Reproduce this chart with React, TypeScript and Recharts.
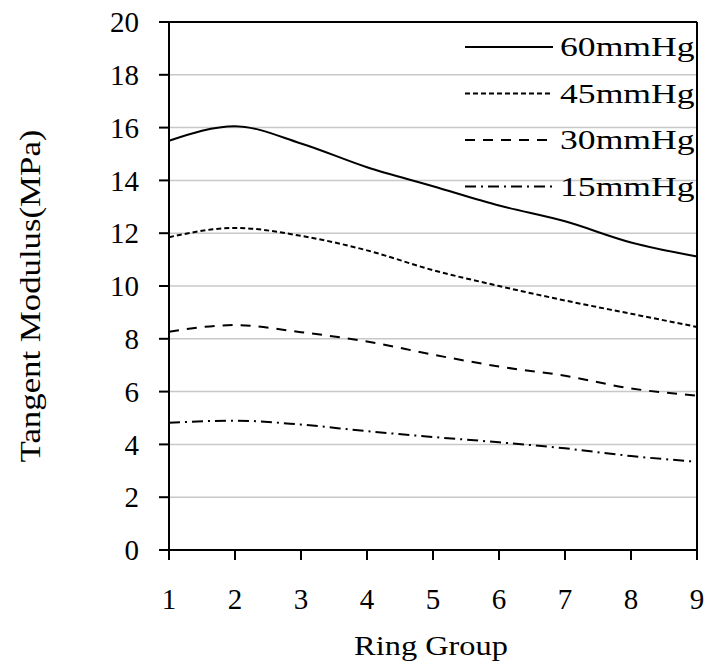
import { LineChart, Line, XAxis, YAxis, CartesianGrid, Legend, ReferenceLine } from 'recharts'

const groups = [1, 2, 3, 4, 5, 6, 7, 8, 9]
const p60 = [15.5, 16.05, 15.4, 14.5, 13.78, 13.05, 12.45, 11.65, 11.12]
const p45 = [11.85, 12.2, 11.9, 11.35, 10.6, 10.0, 9.45, 8.95, 8.45]
const p30 = [8.27, 8.52, 8.25, 7.9, 7.4, 6.95, 6.6, 6.12, 5.85]
const p15 = [4.82, 4.9, 4.75, 4.5, 4.28, 4.08, 3.85, 3.56, 3.34]
const yTicks = [0, 2, 4, 6, 8, 10, 12, 14, 16, 18, 20]
const seriesNames = ['60mmHg', '45mmHg', '30mmHg', '15mmHg']
const seriesKeys = ['p60', 'p45', 'p30', 'p15']
const dashes = ['0', '5 3', '10 8', '11 5 2 5']

const FONT = '"Liberation Serif", "Times New Roman", serif'

const data = groups.map((g, i) => ({
  group: g,
  p60: p60[i],
  p45: p45[i],
  p30: p30[i],
  p15: p15[i],
}))

// the source picture is a bit wider than tall, so the text gets stretched too
function LegendBox() {
  return (
    <svg width={240} height={180} style={{ display: 'block' }}>
      {seriesNames.map((name, i) => {
        const y = 18 + i * 46.5
        return (
          <g key={name}>
            <line x1={5} x2={93} y1={y} y2={y} stroke="#000" strokeWidth={2} strokeDasharray={dashes[i]} />
            <text
              transform={`translate(100 ${y + 9}) scale(1.32 1)`}
              fontFamily={FONT}
              fontSize={27}
              fill="#000"
            >
              {name}
            </text>
          </g>
        )
      })}
    </svg>
  )
}

export default function App() {
  return (
    <div style={{ width: 709, height: 667, background: '#fff' }}>
      <style>{'body{margin:0}'}</style>
      <LineChart width={709} height={667} data={data} margin={{ top: 22, right: 12, left: 0, bottom: 0 }}>
        <CartesianGrid vertical={false} stroke="#c8c8c8" strokeWidth={1.5} />
        <XAxis
          dataKey="group"
          type="number"
          domain={[1, 9]}
          ticks={groups}
          height={117}
          tickSize={10}
          tickMargin={28}
          stroke="#000"
          strokeWidth={2}
          tick={{ fill: '#000', fontSize: 29, fontFamily: FONT }}
          label={() => (
            <text
              transform="translate(431 655) scale(1.2 1)"
              textAnchor="middle"
              fontFamily={FONT}
              fontSize={27}
              fill="#000"
            >
              Ring Group
            </text>
          )}
        />
        <YAxis
          domain={[0, 20]}
          ticks={yTicks}
          width={169}
          tickSize={10}
          tickMargin={20}
          stroke="#000"
          strokeWidth={2}
          tick={{ fill: '#000', fontSize: 29, fontFamily: FONT }}
          label={() => (
            <text
              transform="translate(40 296) rotate(-90) scale(1.2 1)"
              textAnchor="middle"
              fontFamily={FONT}
              fontSize={29}
              fill="#000"
            >
              Tangent Modulus(MPa)
            </text>
          )}
        />
        <ReferenceLine y={20} stroke="#000" strokeWidth={2} />
        <ReferenceLine x={9} stroke="#000" strokeWidth={2} />
        <Legend
          layout="horizontal"
          verticalAlign="middle"
          align="center"
          wrapperStyle={{ top: 29, left: 460, width: 240, height: 180 }}
          content={() => <LegendBox />}
        />
        {seriesKeys.map((k, i) => (
          <Line
            key={k}
            dataKey={k}
            name={seriesNames[i]}
            type="monotone"
            stroke="#000"
            strokeWidth={2}
            strokeDasharray={dashes[i]}
            dot={false}
            activeDot={false}
            isAnimationActive={false}
          />
        ))}
      </LineChart>
    </div>
  )
}
